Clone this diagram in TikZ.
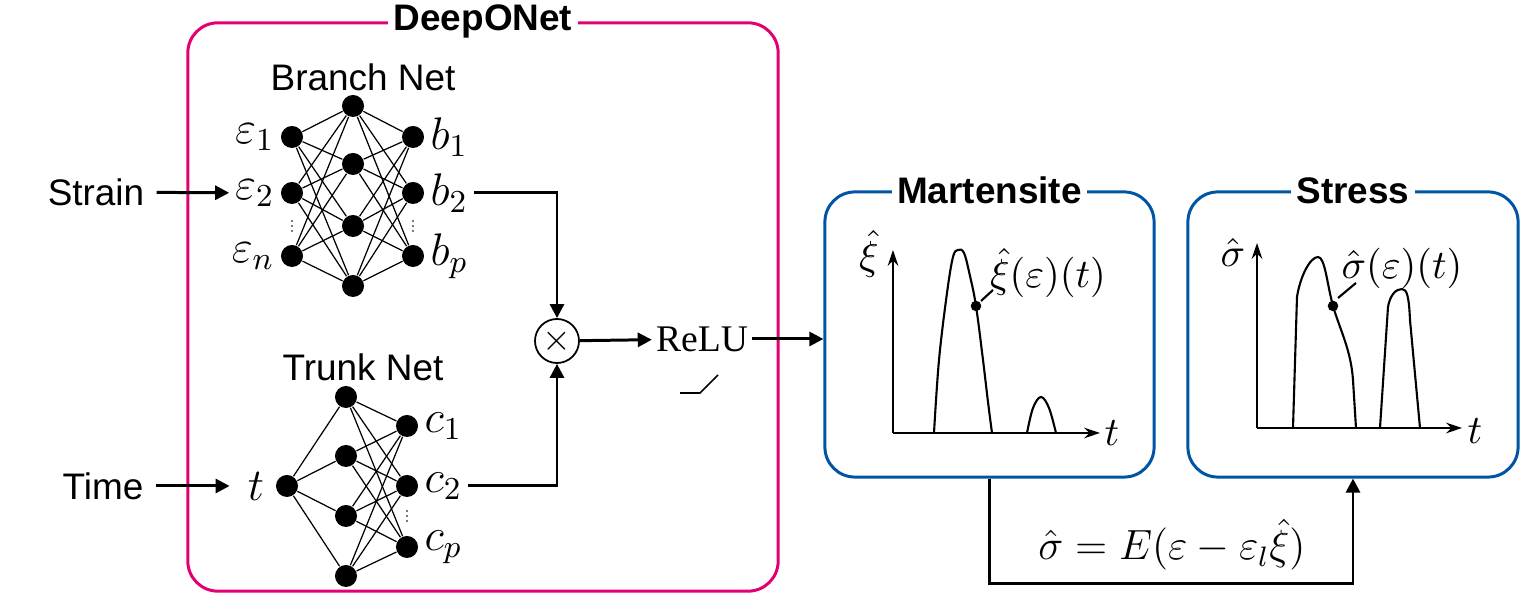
\RequirePackage{fix-cm}
\documentclass[tikz,border=0pt]{standalone}
\usepackage[no-math]{fontspec}
\setmainfont{Liberation Sans}
\newfontfamily\relufont{Liberation Serif}
\usetikzlibrary{arrows.meta, positioning}
\definecolor{onetpink}{RGB}{227,0,115}
\definecolor{outblue}{RGB}{0,84,164}

\tikzset{
  neuron/.style={circle, fill, inner sep=0pt, minimum size=0.22cm},
  conn/.style={line width=0.85pt, -{Triangle[length=4pt,width=4pt]}},
  wire/.style={line width=0.35pt},
  frame/.style={draw, rounded corners=0.3cm, line width=0.85pt, inner sep=0pt},
  title/.style={fill=white, inner sep=1.5pt, font=\bfseries\fontsize{10.5}{12}\selectfont},
  axis/.style={line width=0.6pt, -{Stealth[length=4.5pt,width=3pt]}},
  curve/.style={line width=0.6pt},
  lab/.style={inner sep=1.5pt, font=\fontsize{11.5}{13}\selectfont},
  netlab/.style={inner sep=1.5pt, font=\fontsize{13}{15}\selectfont},
}

\begin{document}
\begin{tikzpicture}[x=0.01cm, y=-0.01cm, font=\fontsize{10.5}{12}\selectfont]
\useasboundingbox (0,0) rectangle (1535,595);

% boxes
\node (don) [frame, draw=onetpink, minimum width=5.9cm, minimum height=5.68cm] at (483,307) {};
\node (mart) [frame, draw=outblue, minimum width=3.29cm, minimum height=2.85cm] at (989.5,334.5) {};
\node (stress) [frame, draw=outblue, minimum width=3.3cm, minimum height=2.85cm] at (1353,334.5) {};
\node (tdon) [title] at (don.north) {DeepONet};
\node (tmart) [title] at (mart.north) {Martensite};
\node (tstress) [title] at (stress.north) {Stress};

% branch net
\node (bnet) at (363,77) {Branch Net};
\node (i1) [neuron] at (292,137) {};
\node (i2) [neuron] at (292,193) {};
\node (i3) [neuron] at (292,256) {};
\node (h1) [neuron] at (353,106) {};
\node (h2) [neuron] at (353,164) {};
\node (h3) [neuron] at (353,226) {};
\node (h4) [neuron] at (353,286) {};
\node (b1) [neuron] at (413,137) {};
\node (b2) [neuron] at (413,193) {};
\node (b3) [neuron] at (413,256) {};
\node (li1) [netlab, left=0pt of i1] {$\varepsilon_1$};
\node (li2) [netlab, left=0pt of i2] {$\varepsilon_2$};
\node (li3) [netlab, left=0pt of i3] {$\varepsilon_n$};
\node (lb1) [netlab, right=0pt of b1] {$b_1$};
\node (lb2) [netlab, right=0pt of b2] {$b_2$};
\node (lb3) [netlab, right=0pt of b3] {$b_p$};
\foreach \a in {i1,i2,i3}
  \foreach \b in {h1,h2,h3,h4}
    \draw[wire] (\a) -- (\b);
\foreach \a in {h1,h2,h3,h4}
  \foreach \b in {b1,b2,b3}
    \draw[wire] (\a) -- (\b);
\foreach \x in {292,413}
  \foreach \y in {221,226,231}
    \fill[black!70] (\x,\y) circle (0.35pt);

% trunk net
\node (tnet) at (363,367) {Trunk Net};
\node (t) [neuron] at (287,486) {};
\node (k1) [neuron] at (346,397) {};
\node (k2) [neuron] at (346,456) {};
\node (k3) [neuron] at (346,516) {};
\node (k4) [neuron] at (346,576) {};
\node (c1) [neuron] at (407,426) {};
\node (c2) [neuron] at (407,486) {};
\node (c3) [neuron] at (407,547) {};
\node (lt) [netlab, left=1.5pt of t] {$t$};
\node (lc1) [netlab, right=0pt of c1] {$c_1$};
\node (lc2) [netlab, right=0pt of c2] {$c_2$};
\node (lc3) [netlab, right=0pt of c3] {$c_p$};
\foreach \b in {k1,k2,k3,k4}
  \draw[wire] (t) -- (\b);
\foreach \a in {k1,k2,k3,k4}
  \foreach \b in {c1,c2,c3}
    \draw[wire] (\a) -- (\b);
\foreach \y in {511,516,521}
  \fill[black!70] (407,\y) circle (0.35pt);

% inputs
\node (strain) at (96,192) {Strain};
\node (time) at (103,486) {Time};
\draw[conn] (strain) -- (li2);
\draw[conn, shorten >=3.5pt] (time) -- (lt);

% product and activation
\node (mul) [circle, draw, line width=0.5pt, minimum size=0.44cm, inner sep=0pt] at (557,341) {$\times$};
\node (relu) [inner sep=1pt] at (702,339) {\relufont\fontsize{10.7}{12}\selectfont ReLU};
\draw[conn] (lb2) -| (mul);
\draw[conn] (lc2) -| (mul);
\draw[conn] (mul) -- (relu);
\draw[conn] (relu) -- (relu -| mart.west);
\draw[line width=0.45pt] (680,393) -- (700,393) -- (718,375);

% martensite plot
\draw[axis] (893,433) -- (893,250);
\draw[axis] (893,433) -- (1100,433);
\node (xi) [lab] at (869,254) {$\hat{\xi}$};
\node (tm) [lab] at (1112,433) {$t$};
\draw[curve] plot[smooth, tension=0.6] coordinates {(934,433) (939,360) (947,293) (953,257) (958,250) (964,253) (970,276) (976,306) (983,360) (988,402) (992,433)};
\draw[curve] plot[smooth, tension=0.6] coordinates {(1027,433) (1033,408) (1041,397) (1049,408) (1056,433)};
\fill (976,306) circle (1.5pt);
\draw[curve] (981,301) -- (993,290);
\node (fxi) [lab] at (1048,273) {$\hat{\xi}(\varepsilon)(t)$};

% stress plot
\draw[axis] (1257,428) -- (1257,243);
\draw[axis] (1257,428) -- (1462,428);
\node (sg) [lab] at (1233,252) {$\hat{\sigma}$};
\node (ts) [lab] at (1475,431) {$t$};
\draw[curve] (1293,428) -- (1297,297) .. controls (1300,277) and (1310,257) .. (1318,257) .. controls (1325,257) and (1327,284) .. (1333,306) .. controls (1340,330) and (1351,350) .. (1353,380) -- (1356,428);
\draw[curve] (1380,428) -- (1388,307) .. controls (1390,295) and (1396,289) .. (1402,289) .. controls (1407,289) and (1409,297) .. (1410,320) -- (1420,428);
\fill (1333,306) circle (1.5pt);
\draw[curve] (1338,298) -- (1356,283);
\node (fsg) [lab] at (1402,268) {$\hat{\sigma}(\varepsilon)(t)$};

% constitutive law
\draw[conn] (mart.south) -- ++(0,105) -| (stress.south);
\node (law) [lab, font=\fontsize{12}{14}\selectfont] at (1172,545) {$\hat{\sigma} = E(\varepsilon - \varepsilon_l\hat{\xi})$};
\end{tikzpicture}
\end{document}
